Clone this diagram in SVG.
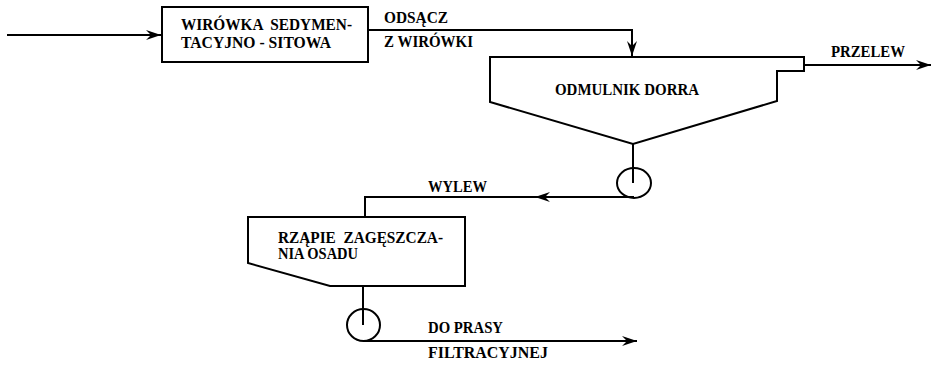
<svg xmlns="http://www.w3.org/2000/svg" width="933" height="365" viewBox="0 0 933 365">
<defs>
<style>
.ln{fill:none;stroke:#000;stroke-width:2;stroke-linejoin:miter}
.t{font-family:'Liberation Serif','DejaVu Serif',serif;font-weight:bold;font-size:16px;fill:#000;white-space:pre}
</style>
<marker id="ah" markerUnits="userSpaceOnUse" markerWidth="20" markerHeight="14" viewBox="-16 -7 18 14" refX="0" refY="0" orient="auto">
<path d="M0,0 L-15,-5 L-10,0 L-15,5 Z" fill="#000"/>
</marker>
</defs>
<rect width="933" height="365" fill="#fff"/>
<g id="wirowka">
<rect class="ln" x="162" y="7" width="206" height="55"/>
<text class="t" x="181" y="30" textLength="171" lengthAdjust="spacingAndGlyphs" xml:space="preserve">WIRÓWKA  SEDYMEN-</text>
<text class="t" x="181" y="48" textLength="150" lengthAdjust="spacingAndGlyphs">TACYJNO - SITOWA</text>
</g>
<g id="odmulnik">
<path class="ln" d="M490,102 L490,57 L804,57 L804,71 L777,71 L777,101 L633,144 Z"/>
<text class="t" x="555" y="95" textLength="144" lengthAdjust="spacingAndGlyphs">ODMULNIK DORRA</text>
</g>
<g id="pompa1">
<ellipse class="ln" cx="634" cy="183" rx="17" ry="15"/>
</g>
<g id="rzapie">
<path class="ln" d="M248,217 L465,217 L465,286 L330,286 L248,263 Z"/>
<text class="t" x="278" y="243" textLength="165" lengthAdjust="spacingAndGlyphs" xml:space="preserve">RZĄPIE  ZAGĘSZCZA-</text>
<text class="t" x="278" y="259" textLength="80" lengthAdjust="spacingAndGlyphs">NIA OSADU</text>
</g>
<g id="pompa2">
<ellipse class="ln" cx="363.5" cy="325" rx="16.5" ry="16"/>
</g>
<g id="connectors">
<path class="ln" d="M7,35 L161,35" marker-end="url(#ah)"/>
<path class="ln" d="M368,30 L632,30 L632,56" marker-end="url(#ah)"/>
<path class="ln" d="M804,65 L931,65" marker-end="url(#ah)"/>
<path class="ln" d="M633,144 L633,183"/>
<path class="ln" d="M634,197 L535,197" marker-end="url(#ah)"/>
<path class="ln" d="M536,197 L365,197 L365,217"/>
<path class="ln" d="M363,286 L363,325"/>
<path class="ln" d="M363,341 L637,341" marker-end="url(#ah)"/>
</g>
<g id="labels">
<text class="t" x="384" y="23" textLength="64" lengthAdjust="spacingAndGlyphs">ODSĄCZ</text>
<text class="t" x="384" y="47" textLength="89" lengthAdjust="spacingAndGlyphs">Z WIRÓWKI</text>
<text class="t" x="831" y="57" textLength="74" lengthAdjust="spacingAndGlyphs">PRZELEW</text>
<text class="t" x="428" y="192" textLength="59" lengthAdjust="spacingAndGlyphs">WYLEW</text>
<text class="t" x="428" y="333" textLength="75" lengthAdjust="spacingAndGlyphs">DO PRASY</text>
<text class="t" x="428" y="358" textLength="120" lengthAdjust="spacingAndGlyphs">FILTRACYJNEJ</text>
</g>
</svg>
